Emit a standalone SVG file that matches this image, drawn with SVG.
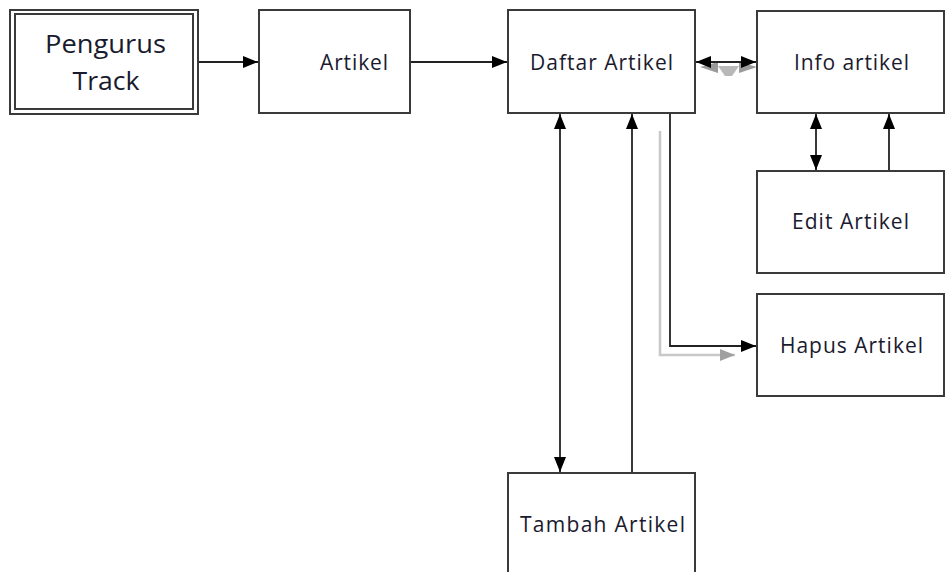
<svg xmlns="http://www.w3.org/2000/svg" width="947" height="572" viewBox="0 0 947 572">
<defs>
<marker id="ah" markerWidth="15" markerHeight="12" refX="15" refY="6" orient="auto-start-reverse" markerUnits="userSpaceOnUse">
<path d="M0,0 L15,6 L0,12 Z" fill="#000"/>
</marker>
<marker id="ahg" markerWidth="15" markerHeight="12" refX="15" refY="6" orient="auto-start-reverse" markerUnits="userSpaceOnUse">
<path d="M0,0 L15,6 L0,12 Z" fill="#a0a0a0"/>
</marker>
</defs>
<style>
.box{fill:#fff;stroke:#3a3a3a;stroke-width:2}
.lbl{font-family:"Open Sans","Liberation Sans",sans-serif;font-size:21px;fill:#1a1a2e;text-anchor:middle}
.big{font-size:25px}
.c{fill:none;stroke:#222;stroke-width:1.8}
.g{fill:none;stroke:#c8c8c8;stroke-width:2.5}
</style>
<rect width="947" height="572" fill="#fff"/>
<g id="connectors">
<path class="g" d="M660,131 V355 H735" marker-end="url(#ahg)"/>
<path d="M700,67 L718,73 L718,62 Z M757,67 L739,73 L739,62 Z" fill="#9a9a9a"/>
<path d="M718,66 H739 L732,76 H725 Z" fill="#b8b8b8"/>
<line class="c" x1="198" y1="62" x2="258" y2="62" marker-end="url(#ah)"/>
<line class="c" x1="410" y1="62" x2="507" y2="62" marker-end="url(#ah)"/>
<line class="c" x1="696" y1="62" x2="756" y2="62" marker-start="url(#ah)" marker-end="url(#ah)"/>
<line class="c" x1="560" y1="114" x2="560" y2="472" marker-start="url(#ah)" marker-end="url(#ah)"/>
<line class="c" x1="632" y1="473" x2="632" y2="114" marker-end="url(#ah)"/>
<path class="c" d="M670,113 V346 H756" marker-end="url(#ah)"/>
<line class="c" x1="816" y1="114" x2="816" y2="170" marker-start="url(#ah)" marker-end="url(#ah)"/>
<line class="c" x1="889" y1="171" x2="889" y2="114" marker-end="url(#ah)"/>
</g>
<g id="pengurus">
<rect class="box" x="10" y="10" width="188" height="104"/>
<rect class="box" x="15" y="14" width="178" height="95"/>
<text class="lbl big" x="105.5" y="53" textLength="121" lengthAdjust="spacingAndGlyphs">Pengurus</text>
<text class="lbl big" x="106" y="90" textLength="67" lengthAdjust="spacingAndGlyphs">Track</text>
</g>
<g id="artikel">
<rect class="box" x="259" y="10" width="151" height="103"/>
<text class="lbl" x="354" y="70" textLength="68" lengthAdjust="spacing">Artikel</text>
</g>
<g id="daftar">
<rect class="box" x="508" y="10" width="187" height="103"/>
<text class="lbl" x="601.5" y="70" textLength="143" lengthAdjust="spacing">Daftar Artikel</text>
</g>
<g id="info">
<rect class="box" x="757" y="11" width="187" height="102"/>
<text class="lbl" x="851.5" y="70" textLength="115" lengthAdjust="spacing">Info artikel</text>
</g>
<g id="edit">
<rect class="box" x="757" y="171" width="187" height="102"/>
<text class="lbl" x="850.5" y="229" textLength="117" lengthAdjust="spacing">Edit Artikel</text>
</g>
<g id="hapus">
<rect class="box" x="757" y="294" width="187" height="102"/>
<text class="lbl" x="851.5" y="353" textLength="143" lengthAdjust="spacing">Hapus Artikel</text>
</g>
<g id="tambah">
<rect class="box" x="508" y="473" width="187" height="110"/>
<text class="lbl" x="602.5" y="532" textLength="165" lengthAdjust="spacing">Tambah Artikel</text>
</g>
</svg>
